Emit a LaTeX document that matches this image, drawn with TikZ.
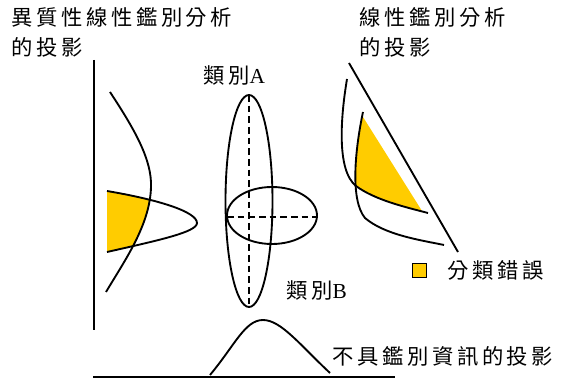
\documentclass[tikz,border=0pt]{standalone}
\usepackage{fontspec}
\setmainfont{Liberation Serif}
\newfontfamily\cjk[LetterSpace=17]{Noto Sans CJK TC}
\definecolor{errfill}{HTML}{FFCC00}
\begin{document}
\begin{tikzpicture}[x=0.75pt,y=-0.75pt,
  lbl/.style={inner sep=0pt,anchor=west,font=\fontsize{16}{18}\selectfont},
  curve/.style={line width=1.4pt},
  axis/.style={line width=1.6pt},
  dashline/.style={line width=1.2pt,dash pattern=on 5pt off 3pt}]
\useasboundingbox (0,0) rectangle (568,381);
% titles
\node[lbl] (t1) at (11,17) {\cjk 異質性線性鑑別分析};
\node[lbl] (t2) at (11,47) {\cjk 的投影};
\node[lbl] (t3) at (359,17) {\cjk 線性鑑別分析};
\node[lbl] (t4) at (359,47) {\cjk 的投影};
\node[lbl] (ca) at (203,75) {{\cjk 類別}\fontsize{16}{18}\selectfont A};
\node[lbl] (cb) at (286,290) {{\cjk 類別}\fontsize{16}{18}\selectfont B};
\node[lbl] (nd) at (332,356) {\cjk 不具鑑別資訊的投影};
\node[lbl] (le) at (447,270) {\cjk 分類錯誤};
% legend square
\node[draw,line width=1.1pt,fill=errfill,minimum size=10.5pt,inner sep=0pt] (sq) at (419.5,270.5) {};
% left axis and bottom axis
\draw[axis] (94,60) -- (94,330);
\draw[axis] (93,377) -- (395,377);
% left projection: yellow region
\begin{scope}
  \clip (94,80) -- (110,92) .. controls (135,130) and (152,160) .. (151,187)
        .. controls (150,225) and (125,260) .. (106,292) -- (94,300) -- cycle;
  \fill[errfill] (107,191) .. controls (160,200) and (197,212) .. (197,223)
        .. controls (197,232) and (160,240) .. (107,252) -- cycle;
\end{scope}
\draw[curve] (110,92) .. controls (135,130) and (152,160) .. (151,187)
        .. controls (150,225) and (125,260) .. (106,292);
\draw[curve] (107,191) .. controls (160,200) and (197,212) .. (197,223)
        .. controls (197,232) and (160,240) .. (107,252);
% ellipses
\draw[curve] (249,201) ellipse [x radius=23.5, y radius=106];
\draw[curve] (272,215.5) ellipse [x radius=45, y radius=28.5];
\draw[dashline] (249,95) -- (249,307);
\draw[dashline] (227,217) -- (317,217);
% bottom bell
\draw[curve] (210,375) .. controls (235,345) and (245,320) .. (263,320)
        .. controls (281,320) and (300,345) .. (330,373);
% right projection
\begin{scope}
  \clip (363,95) -- (363,112) .. controls (355,150) and (350,200) .. (365,218)
        -- (470,218) -- (470,95) -- cycle;
  \clip (356,186) .. controls (375,200) and (405,207) .. (428,213)
        -- (470,213) -- (470,95) -- (330,95) -- (330,186) -- cycle;
  \fill[errfill] (363,117) -- (422,211) -- (340,211) -- (340,117) -- cycle;
\end{scope}
\draw[curve] (349,63) -- (458,252);
\draw[curve] (347,79) .. controls (341,115) and (336,170) .. (356,186)
        .. controls (375,200) and (405,207) .. (428,213);
\draw[curve] (363,112) .. controls (355,150) and (350,200) .. (365,218)
        .. controls (385,235) and (420,240) .. (444,245);
\end{tikzpicture}
\end{document}
